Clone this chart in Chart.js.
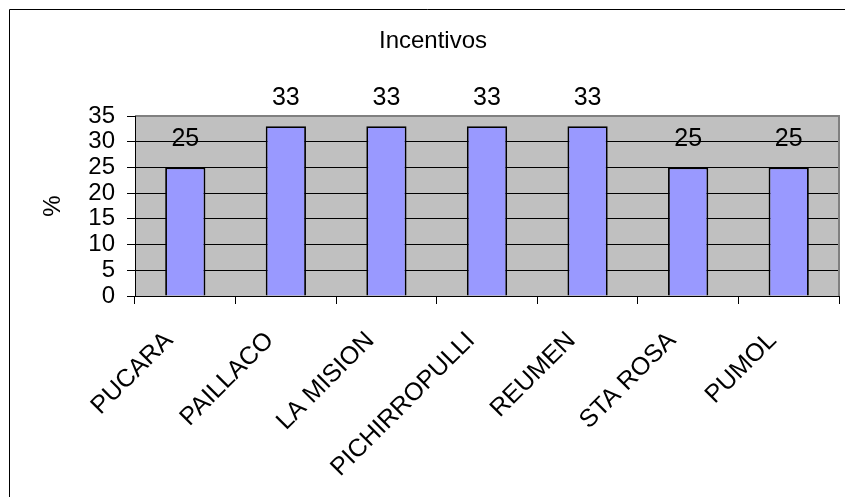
<!DOCTYPE html>
<html>
<head>
<meta charset="utf-8">
<script src="https://cdn.jsdelivr.net/npm/chart.js@4/dist/chart.umd.min.js"></script>
<style>
  html, body { margin: 0; padding: 0; background: #fff; }
  #wrap { width: 845px; height: 497px; }
</style>
</head>
<body>
<div id="wrap"><canvas id="c" width="845" height="497"></canvas></div>
<script>
// Categories and values
const categories = ['PUCARA', 'PAILLACO', 'LA MISION', 'PICHIRROPULLI', 'REUMEN', 'STA ROSA', 'PUMOL'];
const incentivos = [25, 33, 33, 33, 33, 25, 25];
const yTicks = [0, 5, 10, 15, 20, 25, 30, 35];
const chartTitle = 'Incentivos';
const yTitle = '%';

const FONT = '"Liberation Sans", Arial, sans-serif';

// Outer frame (top and left edges) and plot-area background/border
const framePlugin = {
  id: 'frame',
  beforeDraw(chart) {
    const ctx = chart.ctx;
    const a = chart.chartArea;
    ctx.save();
    ctx.fillStyle = '#C0C0C0';
    ctx.fillRect(a.left, a.top, a.right - a.left, a.bottom - a.top);
    ctx.strokeStyle = '#000';
    ctx.lineWidth = 1;
    ctx.beginPath();
    ctx.moveTo(9.5, chart.height);
    ctx.lineTo(9.5, 9.5);
    ctx.lineTo(chart.width, 9.5);
    ctx.stroke();
    ctx.restore();
  },
  afterDatasetsDraw(chart) {
    const ctx = chart.ctx;
    const a = chart.chartArea;
    ctx.save();
    ctx.strokeStyle = '#808080';
    ctx.lineWidth = 2;
    ctx.beginPath();
    ctx.moveTo(a.left, a.top);
    ctx.lineTo(a.right, a.top);
    ctx.lineTo(a.right, a.bottom);
    ctx.stroke();
    ctx.strokeStyle = '#000';
    ctx.lineWidth = 1;
    ctx.beginPath();
    ctx.moveTo(a.left + 0.5, a.top);
    ctx.lineTo(a.left + 0.5, a.bottom + 0.5);
    ctx.lineTo(a.right, a.bottom + 0.5);
    ctx.stroke();
    ctx.restore();
  }
};

// Value labels above each bar
const valueLabels = {
  id: 'valueLabels',
  afterDatasetsDraw(chart) {
    const ctx = chart.ctx;
    const meta = chart.getDatasetMeta(0);
    ctx.save();
    ctx.fillStyle = '#000';
    ctx.font = '25px ' + FONT;
    ctx.textAlign = 'center';
    ctx.textBaseline = 'middle';
    meta.data.forEach((bar, i) => {
      ctx.fillText(String(chart.data.datasets[0].data[i]), bar.x, bar.y - 28);
    });
    ctx.restore();
  }
};

new Chart(document.getElementById('c'), {
  type: 'bar',
  data: {
    labels: categories,
    datasets: [{
      data: incentivos,
      backgroundColor: '#9999FF',
      borderColor: '#000',
      borderWidth: 1.8,
      barPercentage: 0.4,
      categoryPercentage: 1.0
    }]
  },
  options: {
    responsive: false,
    animation: false,
    devicePixelRatio: 1,
    layout: { padding: { left: 27, right: 6, top: 0, bottom: 0 } },
    plugins: {
      legend: { display: false },
      tooltip: { enabled: false },
      title: {
        display: true,
        text: chartTitle,
        color: '#000',
        font: { family: FONT, size: 24, weight: 'normal' },
        padding: { top: 27, bottom: 60.2 }
      }
    },
    scales: {
      x: {
        grid: {
          offset: true,
          drawOnChartArea: false,
          drawTicks: true,
          tickLength: 8,
          color: '#000'
        },
        border: { display: false },
        ticks: {
          color: '#000',
          font: { family: FONT, size: 25 },
          minRotation: 45,
          maxRotation: 45,
          autoSkip: false,
          padding: 22,
          labelOffset: -16
        },
        afterFit(scale) { scale.height = 497 - 296; }
      },
      y: {
        min: 0,
        max: 35,
        afterBuildTicks(scale) { scale.ticks = yTicks.map(v => ({ value: v })); },
        grid: {
          color: ctx => (ctx.tick && ctx.tick.value === 35) ? '#808080' : '#000',
          lineWidth: 1,
          tickLength: 8,
          tickColor: '#000'
        },
        border: { display: false },
        ticks: {
          color: '#000',
          font: { family: FONT, size: 24 },
          padding: 12,
          autoSkip: false
        },
        title: {
          display: true,
          text: yTitle,
          color: '#000',
          font: { family: FONT, size: 24 },
          padding: { top: 11.6, bottom: 0 }
        },
        afterFit(scale) { scale.width = 135 - 27; }
      }
    }
  },
  plugins: [framePlugin, valueLabels]
});
</script>
</body>
</html>
